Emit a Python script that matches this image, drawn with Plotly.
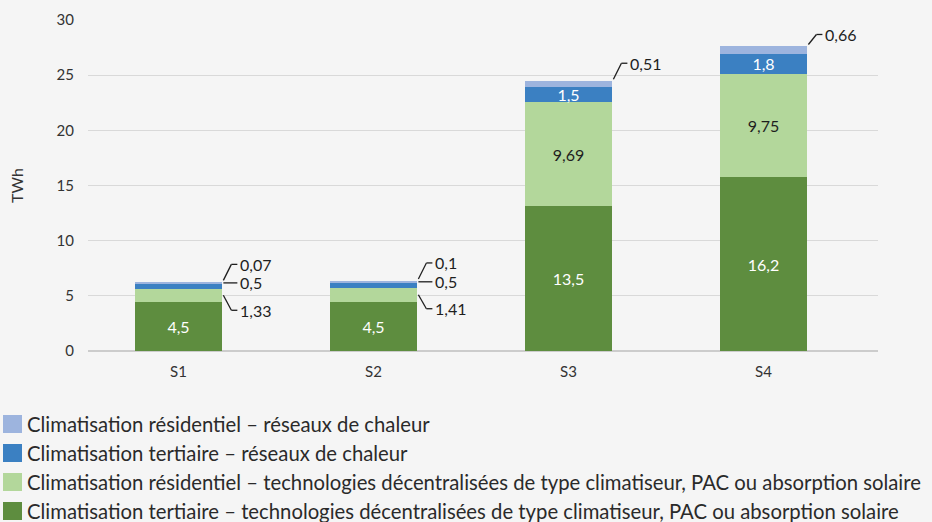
import plotly.graph_objects as go

# Data
scenarios = ["S1", "S2", "S3", "S4"]

series_names = [
    "Climatisation tertiaire – technologies décentralisées de type climatiseur, PAC ou absorption solaire",
    "Climatisation résidentiel – technologies décentralisées de type climatiseur, PAC ou absorption solaire",
    "Climatisation tertiaire – réseaux de chaleur",
    "Climatisation résidentiel – réseaux de chaleur",
]

# bar heights as drawn (TWh)
tertiaire_decentr = [4.45, 4.45, 13.1, 15.75]
residentiel_decentr = [1.2, 1.3, 9.45, 9.4]
tertiaire_reseaux = [0.5, 0.5, 1.35, 1.75]
residentiel_reseaux = [0.07, 0.1, 0.55, 0.7]

# values printed on the chart
lbl_tertiaire_decentr = [4.5, 4.5, 13.5, 16.2]
lbl_residentiel_decentr = [1.33, 1.41, 9.69, 9.75]
lbl_tertiaire_reseaux = [0.5, 0.5, 1.5, 1.8]
lbl_residentiel_reseaux = [0.07, 0.1, 0.51, 0.66]

series = [tertiaire_decentr, residentiel_decentr, tertiaire_reseaux, residentiel_reseaux]
labels = [lbl_tertiaire_decentr, lbl_residentiel_decentr, lbl_tertiaire_reseaux, lbl_residentiel_reseaux]
colors = ["#5e8d3f", "#b3d79b", "#3b80c2", "#9db4de"]
text_colors = ["white", "#1e1e1e", "white", "#1e1e1e"]

FONT = "Lato"
INK = "#1e1e1e"
BG = "#f5f5f5"
BAR_W = 0.45
x = list(range(len(scenarios)))

# plot area in pixels (for the hand-made legend below the chart)
L, R, T, B = 88, 878, 20, 351


def fr(v):
    return str(v).replace(".", ",")


def px(xp, yp):
    return (xp - L) / (R - L), (B - yp) / (B - T)


fig = go.Figure()

# which labels sit inside the bars (the others get a callout)
inside = [
    [True, True, True, True],
    [False, False, True, True],
    [False, False, True, True],
    [False, False, False, False],
]

for k in range(4):
    txt = [fr(labels[k][i]) if inside[k][i] else "" for i in x]
    fig.add_trace(go.Bar(
        x=x, y=series[k], width=BAR_W, name=series_names[k],
        marker=dict(color=colors[k], line=dict(width=0)),
        text=txt, textposition="inside", insidetextanchor="middle",
        textangle=0, textfont=dict(family=FONT, size=16, color=text_colors[k]),
        showlegend=False, hoverinfo="skip",
    ))

# callouts: (series index, bar index, where on the segment, dy px)
callouts = [
    (3, 0, "top", 18), (2, 0, "mid", 3), (1, 0, "mid", -15),
    (3, 1, "top", 18), (2, 1, "mid", 3), (1, 1, "mid", -14),
    (3, 2, "top", 18),
    (3, 3, "top", 12),
]

line_style = dict(color=INK, width=1.3)
for k, i, where, dy in callouts:
    base = sum(series[j][i] for j in range(k))
    yv = base + series[k][i] if where == "top" else base + series[k][i] / 2
    xe = i + BAR_W / 2
    straight = where == "mid" and dy > 0
    y0 = dy if straight else (2 if where == "top" else 0)
    elbow = 1 if straight else 9
    fig.add_shape(type="line", xref="x", yref="y", xsizemode="pixel", ysizemode="pixel",
                  xanchor=xe, yanchor=yv, x0=1, y0=y0, x1=elbow, y1=dy, line=line_style)
    fig.add_shape(type="line", xref="x", yref="y", xsizemode="pixel", ysizemode="pixel",
                  xanchor=xe, yanchor=yv, x0=elbow, y0=dy, x1=15, y1=dy, line=line_style)
    fig.add_annotation(x=xe, y=yv, xref="x", yref="y", text=fr(labels[k][i]),
                       showarrow=False, xanchor="left", yanchor="middle",
                       xshift=16, yshift=dy,
                       font=dict(family=FONT, size=16, color=INK))

# legend (top to bottom: last series first)
legend_rows = [424, 453, 482, 511]
for row, k in zip(legend_rows, reversed(range(4))):
    x0, y0 = px(3, row - 9)
    x1, y1 = px(22, row + 9)
    fig.add_shape(type="rect", xref="paper", yref="paper", x0=x0, x1=x1, y0=y0, y1=y1,
                  fillcolor=colors[k], line=dict(width=0))
    tx, ty = px(25, row)
    fig.add_annotation(x=tx, y=ty, xref="paper", yref="paper", text=series_names[k],
                       showarrow=False, xanchor="left", yanchor="middle",
                       font=dict(family=FONT, size=20.3, color="#2a2a2a"))

fig.update_layout(
    barmode="stack",
    width=932, height=522,
    margin=dict(l=L, r=932 - R, t=T, b=522 - B, autoexpand=False),
    paper_bgcolor=BG, plot_bgcolor=BG,
    font=dict(family=FONT, size=15, color="#333333"),
    uniformtext=dict(minsize=16, mode="show"),
    showlegend=False,
    xaxis=dict(tickvals=x, ticktext=scenarios, range=[-0.464, 3.587],
               showgrid=False, zeroline=False, showline=False, ticks="",
               ticklabelstandoff=10, tickfont=dict(size=15)),
    yaxis=dict(range=[0, 30], dtick=5, gridcolor="#d9d9d9", gridwidth=1,
               zeroline=True, zerolinecolor="#cccccc", zerolinewidth=1.5,
               ticks="", ticklabelstandoff=13, tickfont=dict(size=15),
               title=dict(text="TWh", font=dict(size=16), standoff=28)),
)

fig.write_html("out.html", config={"displayModeBar": False},
               post_script="document.body.style.margin='0';"
                           "document.body.style.background='%s';" % BG)
